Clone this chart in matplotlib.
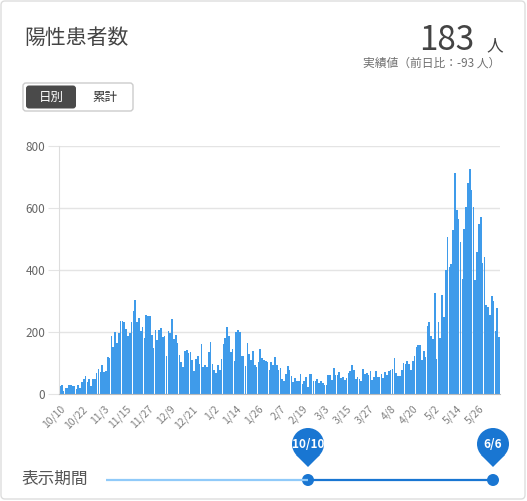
import matplotlib
matplotlib.use("Agg")
import matplotlib.pyplot as plt
from matplotlib.patches import FancyBboxPatch, Circle, Polygon
import datetime

plt.rcParams['font.family'] = ['Noto Sans CJK JP', 'DejaVu Sans']

# daily positive cases, 2020-10-10 .. 2021-06-06
daily_cases = [
    25, 30, 10, 20, 20, 30, 30, 27, 25, 15,
    30, 20, 40, 50, 58, 40, 48, 27, 50, 50,
    68, 80, 70, 95, 70, 73, 118, 115, 186, 152,
    200, 165, 197, 236, 234, 231, 210, 188, 197, 233,
    267, 304, 233, 245, 204, 216, 181, 256, 253, 253,
    191, 150, 206, 175, 206, 212, 183, 186, 124, 204,
    197, 242, 177, 189, 165, 125, 104, 86, 140, 142,
    132,
    135, 111, 73, 113, 124, 97, 161, 86, 95, 87,
    134, 168, 97, 78, 68, 94, 78, 114, 161, 182,
    216, 188, 134, 145, 108, 200, 208, 199, 124, 124,
    91, 165, 130, 111, 138, 95, 88, 102, 146, 115,
    111, 108, 103, 76, 104, 94, 119, 94, 78, 85,
    49, 41, 65, 91, 76, 58, 39, 52, 41, 41,
    65, 32, 41, 55, 22, 65, 65, 43, 43, 47,
    35, 41, 36, 28, 28, 60, 62,
    46, 84, 62, 62, 70, 52, 56, 44, 52, 68,
    73, 95, 78, 49, 56, 48, 41, 81, 66, 68,
    62, 73, 46, 54, 75, 56, 56, 65, 52, 70,
    62, 73, 78, 81, 116, 68, 59, 59, 76, 100,
    97, 108, 97, 78, 105, 124, 152, 157, 159, 111,
    140, 119, 218, 232, 186, 178, 326, 113, 232, 181,
    319, 248, 401, 506, 410, 420, 530, 713, 595, 565,
    491, 372, 532, 603, 680, 727, 658, 603, 367, 458,
    548, 570, 423, 442, 288, 280, 254, 317, 301, 202,
    276, 183,
]

start = datetime.date(2020, 10, 10)
dates = [start + datetime.timedelta(days=i) for i in range(len(daily_cases))]
labels = [f"{d.month}/{d.day}" for d in dates]
tick_idx = list(range(0, len(dates), 12))
y_ticks = [0, 200, 400, 600, 800]

W, H = 527, 501
fig = plt.figure(figsize=(W / 100, H / 100), dpi=100)

# overlay in pixel coordinates for the card decorations
ov = fig.add_axes([0, 0, 1, 1], zorder=0)
ov.set_xlim(0, W)
ov.set_ylim(H, 0)
ov.axis("off")

ov.add_patch(FancyBboxPatch((1, 1), W - 3, H - 3, boxstyle="round,pad=0,rounding_size=4",
                            fc="white", ec="#dddddd", lw=1))
ov.text(24, 38, "陽性患者数", fontsize=15, color="#444444", va="center", ha="left")
ov.text(474, 50, "183", fontsize=24, color="#444444", ha="right", va="baseline")
ov.text(486, 50, "人", fontsize=12, color="#444444", ha="left", va="baseline")
ov.text(500, 63, "実績値（前日比：-93 人）", fontsize=8.5, color="#707070", ha="right", va="center")

# toggle
ov.add_patch(FancyBboxPatch((23, 83), 110, 28, boxstyle="round,pad=0,rounding_size=3",
                            fc="white", ec="#cccccc", lw=1))
ov.add_patch(FancyBboxPatch((26, 85.5), 50, 23, boxstyle="round,pad=0,rounding_size=3",
                            fc="#4a4a4a", ec="none"))
ov.text(51, 97, "日別", fontsize=9, color="white", ha="center", va="center")
ov.text(105, 97, "累計", fontsize=9, color="#333333", ha="center", va="center")

# period slider
ov.text(22, 479, "表示期間", fontsize=12, color="#555555", ha="left", va="center")
ov.plot([106, 308], [480, 480], color="#90caf9", lw=1.6, solid_capstyle="butt")
ov.plot([308, 493], [480, 480], color="#1976d2", lw=1.6, solid_capstyle="butt")
for x, txt in [(308, "10/10"), (493, "6/6")]:
    ov.add_patch(Circle((x, 480), 6, fc="#1976d2", ec="none"))
    ov.add_patch(Polygon([(x - 12, 455), (x + 12, 455), (x, 467)], fc="#1976d2", ec="none"))
    ov.add_patch(Circle((x, 444), 16, fc="#1976d2", ec="none"))
    ov.text(x, 444, txt, fontsize=8.5, color="white", ha="center", va="center", fontweight="bold")

# bar chart
ax = fig.add_axes([59 / W, 1 - 394 / H, 441 / W, 248 / H], zorder=1)
ax.set_facecolor("none")
ax.bar(range(len(daily_cases)), daily_cases, width=0.9, color="#3f9bea", linewidth=0)
ax.set_xlim(-0.5, len(daily_cases) - 0.5)
ax.set_ylim(0, 800)
ax.set_yticks(y_ticks)
ax.grid(axis="y", color="#e4e4e4", lw=1)
ax.set_axisbelow(True)
ax.set_xticks(tick_idx)
ax.set_xticklabels([labels[i] for i in tick_idx], rotation=45, ha="right",
                   rotation_mode="anchor", fontsize=7.5, color="#808080")
ax.tick_params(axis="y", length=8, color="#e4e4e4", labelsize=8.5, labelcolor="#666666", pad=2)
ax.tick_params(axis="x", length=0, pad=7)
for s in ["top", "right"]:
    ax.spines[s].set_visible(False)
ax.spines["left"].set_color("#dddddd")
ax.spines["bottom"].set_color("#bbbbbb")

fig.savefig("out.png", dpi=100)
